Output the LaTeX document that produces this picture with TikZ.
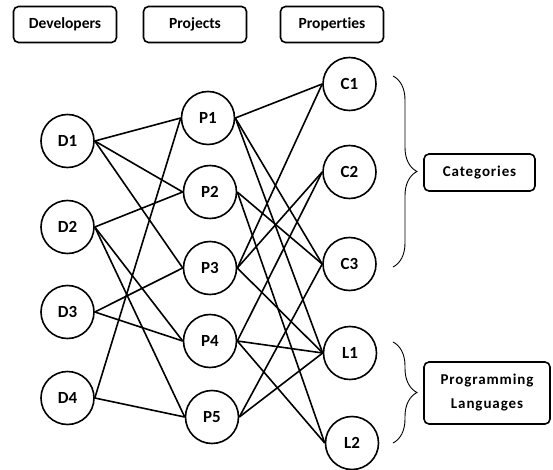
\documentclass[tikz,border=0pt]{standalone}
\usepackage{fontspec}
\setmainfont[Ligatures=NoCommon]{Carlito}
\usetikzlibrary{decorations.pathreplacing}
\begin{document}
\begin{tikzpicture}[x=1pt,y=-1pt,
  hdr/.style={draw,line width=1.6pt,rounded corners=5pt,minimum width=103pt,minimum height=36pt,inner sep=0pt,font=\fontsize{15.5}{17}\selectfont\bfseries},
  grp/.style={draw,line width=1.6pt,rounded corners=5pt,inner sep=0pt,align=center,font=\fontsize{15}{24}\selectfont\bfseries\addfontfeature{LetterSpace=6}},
  vtx/.style={draw,circle,line width=1.6pt,minimum size=53pt,inner sep=0pt,font=\fontsize{17}{19}\selectfont\bfseries},
  edge/.style={line width=1.6pt},
  brc/.style={decorate,decoration={brace,amplitude=24pt},line width=0.9pt}]
\useasboundingbox (0,0) rectangle (553,470);
% headers
\node[hdr] (hd) at (65,24.5) {Developers};
\node[hdr] (hp) at (195,24.5) {Projects};
\node[hdr] (hr) at (332,24.5) {Properties};
% developers
\node[vtx] (D1) at (67.5,141) {D1};
\node[vtx] (D2) at (67.5,227) {D2};
\node[vtx] (D3) at (67.5,312) {D3};
\node[vtx] (D4) at (67.5,398) {D4};
% projects
\node[vtx] (P1) at (208,118) {P1};
\node[vtx] (P2) at (210,192) {P2};
\node[vtx] (P3) at (210,268) {P3};
\node[vtx] (P4) at (210,341) {P4};
\node[vtx] (P5) at (212,417) {P5};
% properties
\node[vtx] (C1) at (349.5,84) {C1};
\node[vtx] (C2) at (349.5,172) {C2};
\node[vtx] (C3) at (349.5,264) {C3};
\node[vtx] (L1) at (350,353) {L1};
\node[vtx] (L2) at (352,443) {L2};
% group boxes
\node[grp,minimum width=111pt,minimum height=37pt] (cat) at (479.5,172.5) {Categories};
\node[grp,minimum width=126pt,minimum height=62pt] (lang) at (487,393) {Programming\\Languages};
% braces
\coordinate (b1s) at (393,76);
\coordinate (b1e) at (393,267);
\coordinate (b2s) at (393,342);
\coordinate (b2e) at (393,443);
\draw[brc] (b1s) -- (b1e);
\draw[brc] (b2s) -- (b2e);
% developer-project edges
\draw[edge] (D1.east) -- (P1.west);
\draw[edge] (D1.east) -- (P2.west);
\draw[edge] (D1.east) -- (P3.west);
\draw[edge] (D2.east) -- (P2.west);
\draw[edge] (D2.east) -- (P4.west);
\draw[edge] (D2.east) -- (P5.west);
\draw[edge] (D3.east) -- (P3.west);
\draw[edge] (D3.east) -- (P4.west);
\draw[edge] (D4.east) -- (P1.west);
\draw[edge] (D4.east) -- (P5.west);
% project-property edges
\draw[edge] (P1.east) -- (C1.west);
\draw[edge] (P1.east) -- (C3.west);
\draw[edge] (P1.east) -- (L1.west);
\draw[edge] (P2.east) -- (C3.west);
\draw[edge] (P2.east) -- (L2.west);
\draw[edge] (P3.east) -- (C1.west);
\draw[edge] (P3.east) -- (C2.west);
\draw[edge] (P3.east) -- (L1.west);
\draw[edge] (P4.east) -- (C2.west);
\draw[edge] (P4.east) -- (L1.west);
\draw[edge] (P4.east) -- (L2.west);
\draw[edge] (P5.east) -- (C3.west);
\draw[edge] (P5.east) -- (L1.west);
\end{tikzpicture}
\end{document}
